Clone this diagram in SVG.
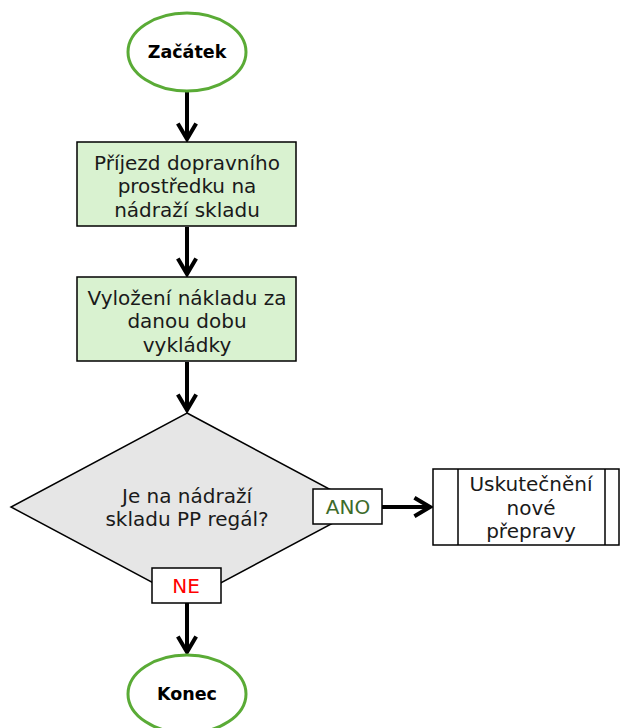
<svg xmlns="http://www.w3.org/2000/svg" width="620" height="728" viewBox="0 0 620 728">
  <style>
    .term { fill: #ffffff; stroke: #5aab36; stroke-width: 3; }
    .proc { fill: #d9f2d0; stroke: #000000; stroke-width: 1.5; }
    .dec { fill: #e6e6e6; stroke: #000000; stroke-width: 1.5; }
    .lbl { fill: #ffffff; stroke: #000000; stroke-width: 1.5; }
    .sub { fill: #ffffff; stroke: #000000; stroke-width: 1.5; }
    .edge { fill: none; stroke: #000000; stroke-width: 4; }
    text { font-family: "DejaVu Sans", Verdana, sans-serif; font-size: 20px; text-anchor: middle; fill: #1a1a1a; }
    .bold { font-weight: bold; font-size: 17.5px; fill: #000000; }
  </style>
  <defs>
    <marker id="chev" viewBox="0 0 12 12" refX="10" refY="6" markerWidth="5.5" markerHeight="5.5" orient="auto" markerUnits="strokeWidth">
      <path d="M1.5,1 L10,6 L1.5,11" fill="none" stroke="#000000" stroke-width="2.2" stroke-linejoin="miter"/>
    </marker>
  </defs>

  <!-- connectors -->
  <g id="connectors">
    <path class="edge" d="M187,92 L187,139" marker-end="url(#chev)"/>
    <path class="edge" d="M187,227 L187,274" marker-end="url(#chev)"/>
    <path class="edge" d="M187,362 L187,410" marker-end="url(#chev)"/>
    <path class="edge" d="M382,507 L430,507" marker-end="url(#chev)"/>
    <path class="edge" d="M187,603 L187,652" marker-end="url(#chev)"/>
  </g>

  <g id="start">
    <ellipse class="term" cx="187" cy="52" rx="59" ry="39"/>
    <text class="bold" x="187" y="58">Začátek</text>
  </g>

  <g id="arrival">
    <rect class="proc" x="77" y="142" width="219" height="84"/>
    <text x="187" y="170">Příjezd dopravního</text>
    <text x="187" y="193">prostředku na</text>
    <text x="187" y="217">nádraží skladu</text>
  </g>

  <g id="unloading">
    <rect class="proc" x="77" y="277" width="219" height="84"/>
    <text x="187" y="305">Vyložení nákladu za</text>
    <text x="187" y="328">danou dobu</text>
    <text x="187" y="352">vykládky</text>
  </g>

  <g id="decision">
    <polygon class="dec" points="187,413 363,507 187,601 11,507"/>
    <text x="187" y="503">Je na nádraží</text>
    <text x="187" y="526">skladu PP regál?</text>
  </g>

  <g id="label-yes">
    <rect class="lbl" x="313" y="489" width="69" height="35"/>
    <text x="348" y="514" style="fill:#3d6b2b">ANO</text>
  </g>

  <g id="label-no">
    <rect class="lbl" x="152" y="568" width="69" height="35"/>
    <text x="186" y="593" style="fill:#ff0000">NE</text>
  </g>

  <g id="new-transport">
    <rect class="sub" x="433" y="469" width="186" height="76"/>
    <line class="sub" x1="458" y1="469" x2="458" y2="545"/>
    <line class="sub" x1="605" y1="469" x2="605" y2="545"/>
    <text x="531" y="491">Uskutečnění</text>
    <text x="531" y="515">nové</text>
    <text x="531" y="538">přepravy</text>
  </g>

  <g id="end">
    <ellipse class="term" cx="187" cy="694" rx="59" ry="39"/>
    <text class="bold" x="187" y="700">Konec</text>
  </g>
</svg>
